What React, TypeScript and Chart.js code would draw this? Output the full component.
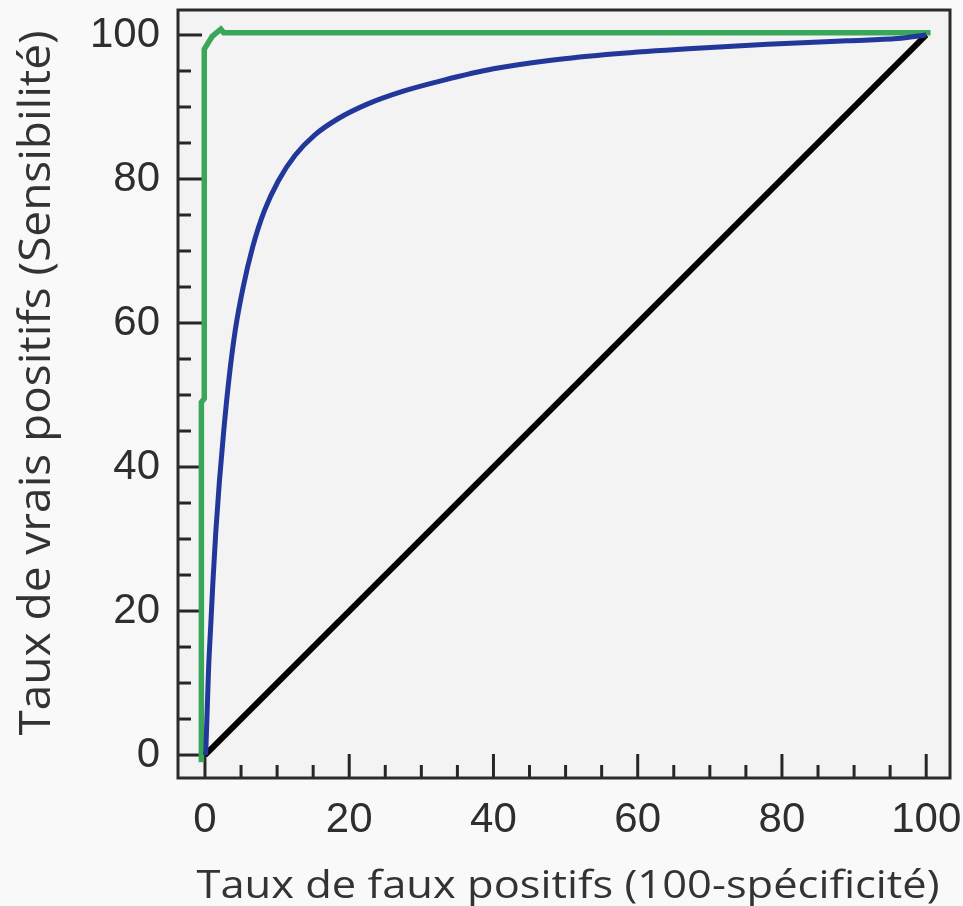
import React, { useEffect, useRef } from "react";
import { Chart, registerables } from "chart.js";

Chart.register(...registerables);

const xTitle = "Taux de faux positifs (100-spécificité)";
const yTitle = "Taux de vrais positifs (Sensibilité)";

const tickValues = [0, 20, 40, 60, 80, 100];
const minorTickValues = [5, 10, 15, 25, 30, 35, 45, 50, 55, 65, 70, 75, 85, 90, 95];

// Blue ROC curve
const blueX = [0.1, 0.3, 0.5, 0.8, 1.1, 1.5, 2.0, 2.6, 3.3, 4.2, 5.3, 6.6, 8.2, 10.2, 12.5, 15.2, 18.5, 22.5, 27.5, 33, 40, 48, 57, 67, 78, 89, 96, 100];
const blueY = [0, 6, 12, 18, 24, 31, 38, 45, 52, 59, 65, 70.5, 75.5, 79.8, 83.3, 86.1, 88.4, 90.4, 92.2, 93.7, 95.3, 96.5, 97.4, 98.1, 98.7, 99.2, 99.5, 100];

// Green (ideal) curve
const greenX = [-0.5, -0.5, -0.1, -0.1, 0.5, 1.0, 2.2, 2.6, 100.6];
const greenY = [-1, 49, 49.5, 98, 99, 99.8, 100.8, 100.3, 100.3];

// Black diagonal
const diagX = [0, 100];
const diagY = [0, 100];

const toPts = (xs: number[], ys: number[]) => xs.map((x, i) => ({ x, y: ys[i] }));

const decor = {
  id: "decor",
  beforeDraw(chart: any) {
    const { ctx, chartArea } = chart;
    const { left, top, right, bottom } = chartArea;
    ctx.save();
    ctx.fillStyle = "#f9f9f9";
    ctx.fillRect(0, 0, chart.width, chart.height);
    ctx.fillStyle = "#f3f3f3";
    ctx.fillRect(left, top, right - left, bottom - top);
    ctx.restore();
  },
  beforeDatasetsDraw(chart: any) {
    const { ctx, chartArea, scales } = chart;
    const { left, bottom } = chartArea;
    ctx.save();
    ctx.strokeStyle = "#262626";
    ctx.lineWidth = 3;
    const all = [...tickValues.map((v) => [v, 24]), ...minorTickValues.map((v) => [v, 13])];
    for (const [v, len] of all) {
      const px = scales.x.getPixelForValue(v);
      ctx.beginPath();
      ctx.moveTo(px, bottom);
      ctx.lineTo(px, bottom - len);
      ctx.stroke();
      const py = scales.y.getPixelForValue(v);
      ctx.beginPath();
      ctx.moveTo(left, py);
      ctx.lineTo(left + len, py);
      ctx.stroke();
    }
    ctx.restore();
  },
  afterDatasetsDraw(chart: any) {
    const { ctx, chartArea } = chart;
    const { left, top, right, bottom } = chartArea;
    ctx.save();
    ctx.strokeStyle = "#2b2b2b";
    ctx.lineWidth = 3;
    ctx.strokeRect(left, top, right - left, bottom - top);
    ctx.restore();

    ctx.save();
    ctx.fillStyle = "#333333";
    ctx.textAlign = "center";
    ctx.textBaseline = "alphabetic";
    ctx.font = "39px 'Open Sans'";
    const wx = ctx.measureText(xTitle).width;
    ctx.translate(568, 898);
    ctx.scale(743 / wx, 1);
    ctx.fillText(xTitle, 0, 0);
    ctx.restore();

    ctx.save();
    ctx.fillStyle = "#333333";
    ctx.textAlign = "center";
    ctx.textBaseline = "middle";
    ctx.font = "44px 'Open Sans'";
    const wy = ctx.measureText(yTitle).width;
    ctx.translate(37, 383);
    ctx.rotate(-Math.PI / 2);
    ctx.scale(705 / wy, 1);
    ctx.fillText(yTitle, 0, 0);
    ctx.restore();
  },
};

export default function App() {
  const ref = useRef<HTMLCanvasElement | null>(null);
  useEffect(() => {
    if (!ref.current) return;
    const tickFont = { family: "'Liberation Sans', Arial, sans-serif", size: 42, weight: "normal" as const };
    const chart = new Chart(ref.current, {
      type: "line",
      data: {
        datasets: [
          {
            data: toPts(blueX, blueY),
            borderColor: "#22379a",
            borderWidth: 5,
            pointRadius: 0,
            cubicInterpolationMode: "monotone",
            fill: false,
          },
          {
            data: toPts(diagX, diagY),
            borderColor: "#000000",
            borderWidth: 6,
            pointRadius: 0,
            fill: false,
          },
          {
            data: toPts(greenX, greenY),
            borderColor: "#3aa65a",
            borderWidth: 5.5,
            pointRadius: 0,
            fill: false,
          },
        ],
      },
      options: {
        animation: false,
        responsive: false,
        maintainAspectRatio: false,
        layout: { padding: { top: 10, right: 13, left: 0, bottom: 0 } },
        plugins: { legend: { display: false }, tooltip: { enabled: false } },
        scales: {
          x: {
            type: "linear",
            min: -3.74,
            max: 103.3,
            grid: { display: false, drawTicks: false },
            border: { display: false },
            ticks: { color: "#2e2e2e", font: tickFont, padding: 17, autoSkip: false, maxRotation: 0 },
            afterBuildTicks: (s: any) => {
              s.ticks = tickValues.map((v) => ({ value: v }));
            },
            afterFit: (s: any) => {
              s.height = 128;
              s.paddingLeft = 0;
              s.paddingRight = 0;
            },
          },
          y: {
            type: "linear",
            min: -3.19,
            max: 103.47,
            grid: { display: false, drawTicks: false },
            border: { display: false },
            ticks: { color: "#2e2e2e", font: tickFont, padding: 18, autoSkip: false },
            afterBuildTicks: (s: any) => {
              s.ticks = tickValues.map((v) => ({ value: v }));
            },
            afterFit: (s: any) => {
              s.width = 178;
              s.paddingTop = 0;
              s.paddingBottom = 0;
            },
          },
        },
      },
      plugins: [decor],
    });
    return () => chart.destroy();
  }, []);
  return (
    <div style={{ position: "absolute", left: 0, top: 0, width: 963, height: 906 }}>
      <canvas ref={ref} width={963} height={906} style={{ width: 963, height: 906 }} />
    </div>
  );
}
